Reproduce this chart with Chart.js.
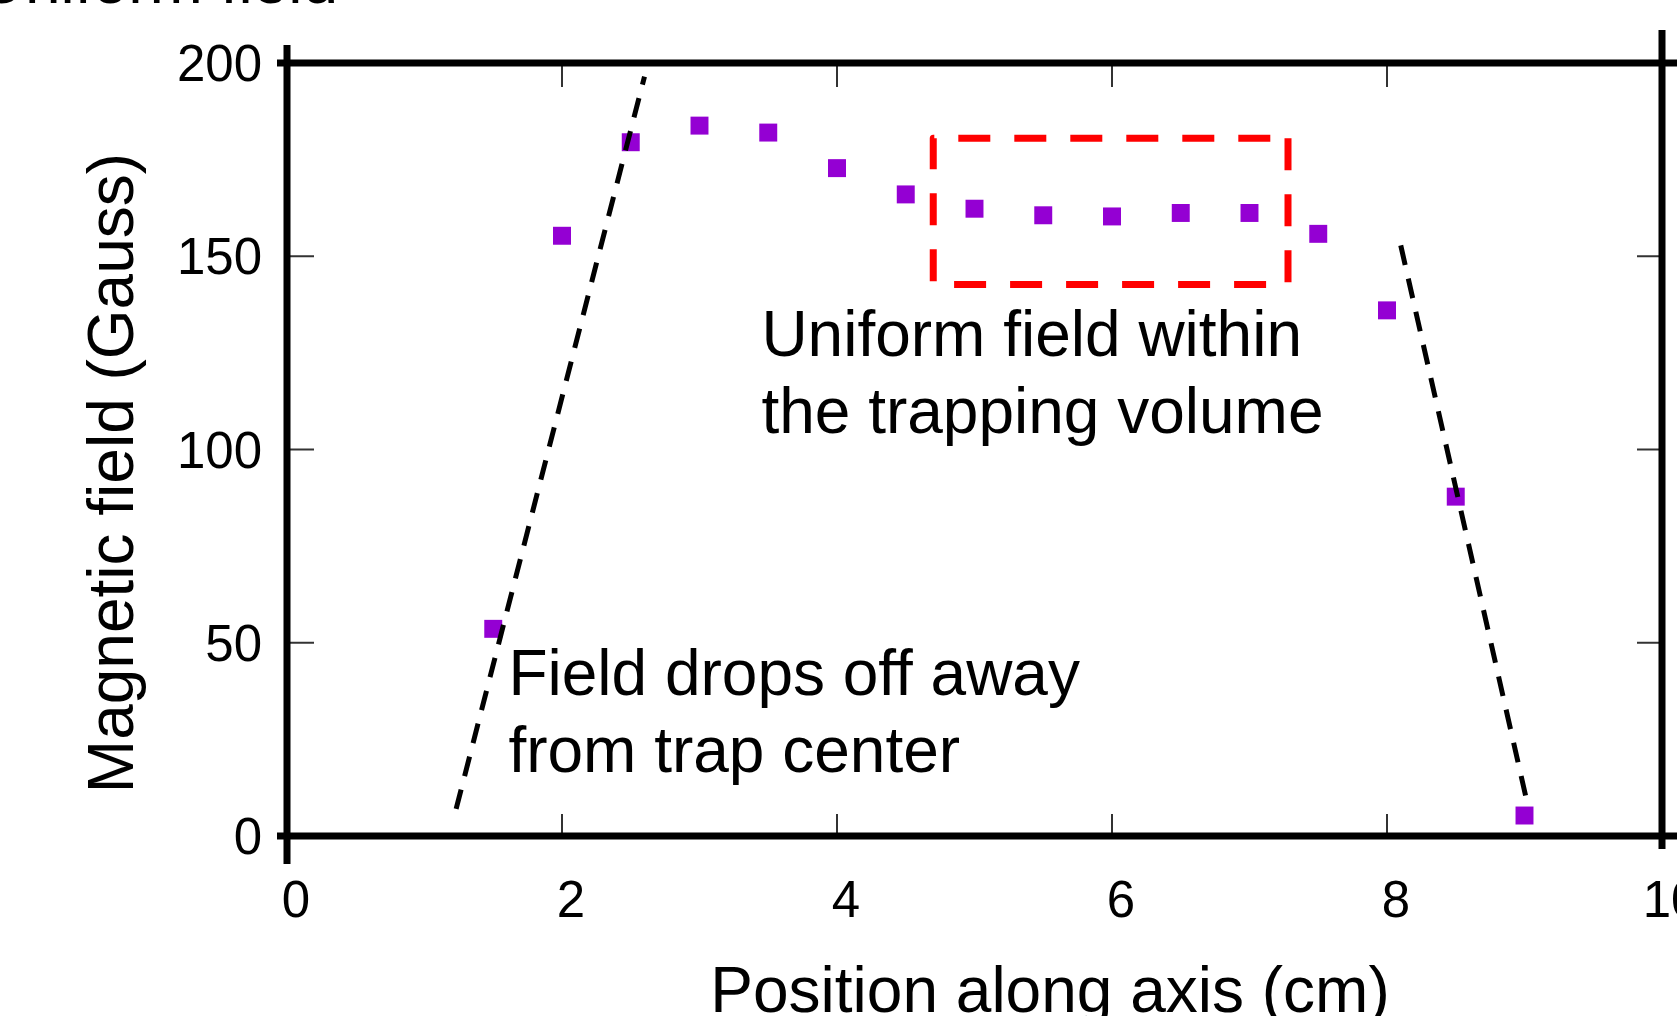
<!DOCTYPE html>
<html>
<head>
<meta charset="utf-8">
<script src="https://cdn.jsdelivr.net/npm/chart.js@4"></script>
<style>
  body{margin:0;background:#fff;}
  canvas{display:block;}
</style>
</head>
<body>
<canvas id="chart" width="1677" height="1016"></canvas>
<script>
// measured field along the trap axis
let positions=[1.5,2,2.5,3,3.5,4,4.5,5,5.5,6,6.5,7,7.5,8,8.5,9];
let fieldValues=[53.6,155.3,179.5,183.8,182,172.8,166,162.3,160.6,160.3,161.2,161.2,155.8,136,87.8,5.3];

// guide lines drawn on the plot (data units)
let leftGuide=[{x:1.23,y:7},{x:2.6,y:196.5}];
let rightGuide=[{x:8.1,y:152.8},{x:9.03,y:7}];
let uniformBox=[{x:7.28,y:180.5},{x:7.28,y:142.7},{x:4.7,y:142.7},{x:4.7,y:180.5},{x:7.28,y:180.5}];

let xTickValues=[0,2,4,6,8,10];
let yTickValues=[0,50,100,150,200];

let notes=[
    {x:3.45,y:124.1,lines:["Uniform field within","the trapping volume"]},
    {x:1.61,y:36.4,lines:["Field drops off away","from trap center"]}
];

const FONT="'Liberation Sans', Arial, sans-serif";

const drawLine=(ctx,x1,y1,x2,y2)=>{
    ctx.beginPath();
    ctx.moveTo(x1,y1);
    ctx.lineTo(x2,y2);
    ctx.stroke();
}

const framePlugin={
    id:'frame',
    afterDatasetsDraw:(chart)=>{
        const ctx=chart.ctx;
        const a=chart.chartArea;
        const xs=chart.scales.x, ys=chart.scales.y;
        ctx.save();
        // small inward ticks (mirrored)
        ctx.strokeStyle='#333';
        ctx.lineWidth=2;
        xTickValues.slice(1,-1).forEach(v=>{
            let px=xs.getPixelForValue(v);
            drawLine(ctx,px,a.bottom,px,a.bottom-22);
            drawLine(ctx,px,a.top,px,a.top+24);
        });
        yTickValues.slice(1,-1).forEach(v=>{
            let py=ys.getPixelForValue(v);
            drawLine(ctx,a.left,py,a.left+27,py);
            drawLine(ctx,a.right,py,a.right-25,py);
        });
        // heavy border
        ctx.strokeStyle='#000';
        ctx.lineWidth=7;
        drawLine(ctx,a.left-10,a.top,chart.width,a.top);
        drawLine(ctx,a.left-10,a.bottom,chart.width,a.bottom);
        drawLine(ctx,a.left,a.top-18,a.left,a.bottom+28);
        drawLine(ctx,a.right,30,a.right,a.bottom+13);

        // annotations
        ctx.fillStyle='#000';
        ctx.font='64px '+FONT;
        ctx.textAlign='left';
        ctx.textBaseline='alphabetic';
        notes.forEach(n=>{
            let px=xs.getPixelForValue(n.x);
            let py=ys.getPixelForValue(n.y);
            n.lines.forEach((t,i)=>ctx.fillText(t,px,py+i*77));
        });

        // axis titles
        ctx.textAlign='center';
        ctx.fillText("Position along axis (cm)",1050,1012);
        ctx.save();
        ctx.translate(133,473);
        ctx.rotate(-Math.PI/2);
        ctx.fillText("Magnetic field (Gauss)",0,0);
        ctx.restore();

        // cut-off title at the very top
        ctx.textAlign='right';
        ctx.fillText("Uniform field",338,3);
        ctx.restore();
    }
}

const ctx=document.getElementById('chart');
new Chart(ctx,{
    type:'scatter',
    data:{
        datasets:[
            {
                label:'left guide',
                data:leftGuide,
                showLine:true,
                borderColor:'#000',
                borderWidth:5,
                borderDash:[20,14],
                pointRadius:0,
                order:0
            },
            {
                label:'right guide',
                data:rightGuide,
                showLine:true,
                borderColor:'#000',
                borderWidth:5,
                borderDash:[20,14],
                pointRadius:0,
                order:0
            },
            {
                label:'uniform region',
                data:uniformBox,
                showLine:true,
                borderColor:'#ff0000',
                borderWidth:7,
                borderDash:[32,24],
                borderJoinStyle:'round',
                pointRadius:0,
                order:0
            },
            {
                label:'Magnetic field',
                data:positions.map((p,i)=>({x:p,y:fieldValues[i]})),
                pointStyle:'rect',
                pointRadius:12.7,
                pointBackgroundColor:'#9400d3',
                pointBorderColor:'#9400d3',
                pointBorderWidth:0,
                showLine:false,
                order:1
            }
        ]
    },
    options:{
        responsive:false,
        animation:false,
        devicePixelRatio:1,
        layout:{padding:{top:63,right:15,left:0,bottom:0}},
        plugins:{legend:{display:false},tooltip:{enabled:false}},
        scales:{
            x:{
                type:'linear',
                min:0,max:10,
                afterBuildTicks:(scale)=>{scale.ticks=xTickValues.map(v=>({value:v}));},
                afterFit:(scale)=>{scale.height=180;scale.paddingLeft=0;scale.paddingRight=0;},
                grid:{display:false},
                border:{display:false},
                ticks:{
                    color:'#000',
                    font:{family:FONT,size:51},
                    padding:28,
                    labelOffset:9,
                    maxRotation:0,
                    autoSkip:false
                }
            },
            y:{
                type:'linear',
                min:0,max:200,
                afterBuildTicks:(scale)=>{scale.ticks=yTickValues.map(v=>({value:v}));},
                afterFit:(scale)=>{scale.width=287;scale.paddingTop=0;scale.paddingBottom=0;},
                grid:{display:false},
                border:{display:false},
                ticks:{
                    color:'#000',
                    font:{family:FONT,size:51},
                    padding:17,
                    labelOffset:4,
                    autoSkip:false
                }
            }
        }
    },
    plugins:[framePlugin]
});
</script>
</body>
</html>
